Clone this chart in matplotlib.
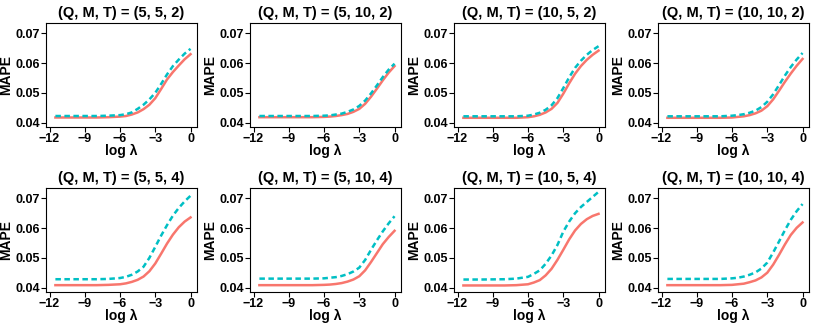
import matplotlib
matplotlib.use("Agg")
import matplotlib.pyplot as plt

plt.rcParams['font.family'] = ['Liberation Sans', 'DejaVu Sans']
plt.rcParams['font.weight'] = 'bold'

# log lambda grid
log_lam = [-11.5, -10, -8, -7, -6, -5.5, -5, -4.5, -4, -3.5, -3, -2.5, -2, -1.5, -1, -0.5, 0]

titles = ['(Q, M, T) = (5, 5, 2)', '(Q, M, T) = (5, 10, 2)',
          '(Q, M, T) = (10, 5, 2)', '(Q, M, T) = (10, 10, 2)',
          '(Q, M, T) = (5, 5, 4)', '(Q, M, T) = (5, 10, 4)',
          '(Q, M, T) = (10, 5, 4)', '(Q, M, T) = (10, 10, 4)']

# solid (red) series per panel
solid = [
    [.0417, .0417, .0417, .0418, .0420, .0422, .0427, .0434, .0445, .0460, .0482, .0513, .0545, .0570, .0592, .0613, .0630],
    [.0418, .0418, .0418, .0418, .0419, .0420, .0422, .0425, .0429, .0436, .0446, .0463, .0487, .0514, .0542, .0568, .0590],
    [.0416, .0416, .0416, .0416, .0418, .0421, .0426, .0434, .0446, .0466, .0497, .0532, .0564, .0590, .0611, .0628, .0642],
    [.0416, .0416, .0416, .0416, .0417, .0419, .0421, .0425, .0431, .0440, .0455, .0478, .0507, .0537, .0565, .0591, .0614],
    [.0408, .0408, .0408, .0409, .0411, .0414, .0419, .0426, .0437, .0455, .0481, .0514, .0548, .0578, .0603, .0622, .0636],
    [.0408, .0408, .0408, .0408, .0409, .0410, .0412, .0415, .0420, .0427, .0438, .0458, .0486, .0516, .0546, .0570, .0591],
    [.0407, .0407, .0407, .0408, .0411, .0417, .0425, .0441, .0463, .0493, .0527, .0562, .0592, .0614, .0630, .0641, .0648],
    [.0408, .0408, .0408, .0408, .0409, .0411, .0413, .0418, .0424, .0434, .0450, .0477, .0510, .0545, .0577, .0601, .0619],
]

# dashed (cyan) series per panel
dashed = [
    [.0422, .0422, .0422, .0423, .0425, .0428, .0434, .0446, .0460, .0478, .0500, .0530, .0562, .0590, .0612, .0632, .0648],
    [.0422, .0422, .0422, .0422, .0423, .0424, .0427, .0430, .0436, .0444, .0456, .0474, .0498, .0525, .0553, .0578, .0598],
    [.0421, .0421, .0421, .0421, .0423, .0427, .0433, .0443, .0458, .0482, .0516, .0552, .0584, .0608, .0628, .0644, .0657],
    [.0421, .0421, .0421, .0421, .0423, .0425, .0428, .0433, .0440, .0452, .0470, .0495, .0526, .0558, .0587, .0612, .0634],
    [.0428, .0428, .0428, .0429, .0432, .0436, .0443, .0454, .0470, .0500, .0537, .0575, .0610, .0642, .0668, .0690, .0709],
    [.0430, .0430, .0430, .0430, .0431, .0433, .0435, .0439, .0445, .0454, .0467, .0493, .0527, .0559, .0589, .0616, .0640],
    [.0427, .0427, .0428, .0430, .0436, .0446, .0458, .0480, .0508, .0543, .0588, .0622, .0650, .0671, .0688, .0705, .0722],
    [.0429, .0429, .0429, .0429, .0431, .0433, .0437, .0443, .0451, .0464, .0484, .0518, .0555, .0593, .0628, .0657, .0681],
]

W, H = 817, 327
fig = plt.figure(figsize=(W / 100, H / 100), dpi=100)

lefts = [46, 250, 454, 658]
tops = [23, 188]
pw, ph = 151, 104

for i in range(8):
    r, c = divmod(i, 4)
    ax = fig.add_axes([lefts[c] / W, (H - tops[r] - ph) / H, pw / W, ph / H])
    ax.plot(log_lam, solid[i], color='#F8766D', lw=1.8, solid_joinstyle='round')
    ax.plot(log_lam, dashed[i], color='#00BFC4', lw=1.8, linestyle=(0, (2.2, 1.4)))
    ax.set_xlim(-12.3, 0.55)
    ax.set_ylim(0.0385, 0.0735)
    ax.set_xticks([-12, -9, -6, -3, 0])
    ax.set_yticks([0.04, 0.05, 0.06, 0.07])
    ax.set_yticklabels(['0.04', '0.05', '0.06', '0.07'])
    ax.tick_params(length=3.5, width=0.8, labelsize=9)
    ax.tick_params(axis='x', pad=0.5)
    ax.tick_params(axis='y', pad=1)
    for lab in ax.get_xticklabels() + ax.get_yticklabels():
        lab.set_fontweight('bold')
    ax.set_title(titles[i], fontsize=10.5, fontweight='bold', pad=4)
    ax.set_xlabel('log λ', fontsize=10, fontweight='bold')
    ax.xaxis.set_label_coords(0.5, -0.16)
    ax.set_ylabel('MAPE', fontsize=10, fontweight='bold')
    ax.yaxis.set_label_coords(-0.215, 0.5)
    for s in ax.spines.values():
        s.set_linewidth(0.8)

fig.savefig('out.png', dpi=100)
